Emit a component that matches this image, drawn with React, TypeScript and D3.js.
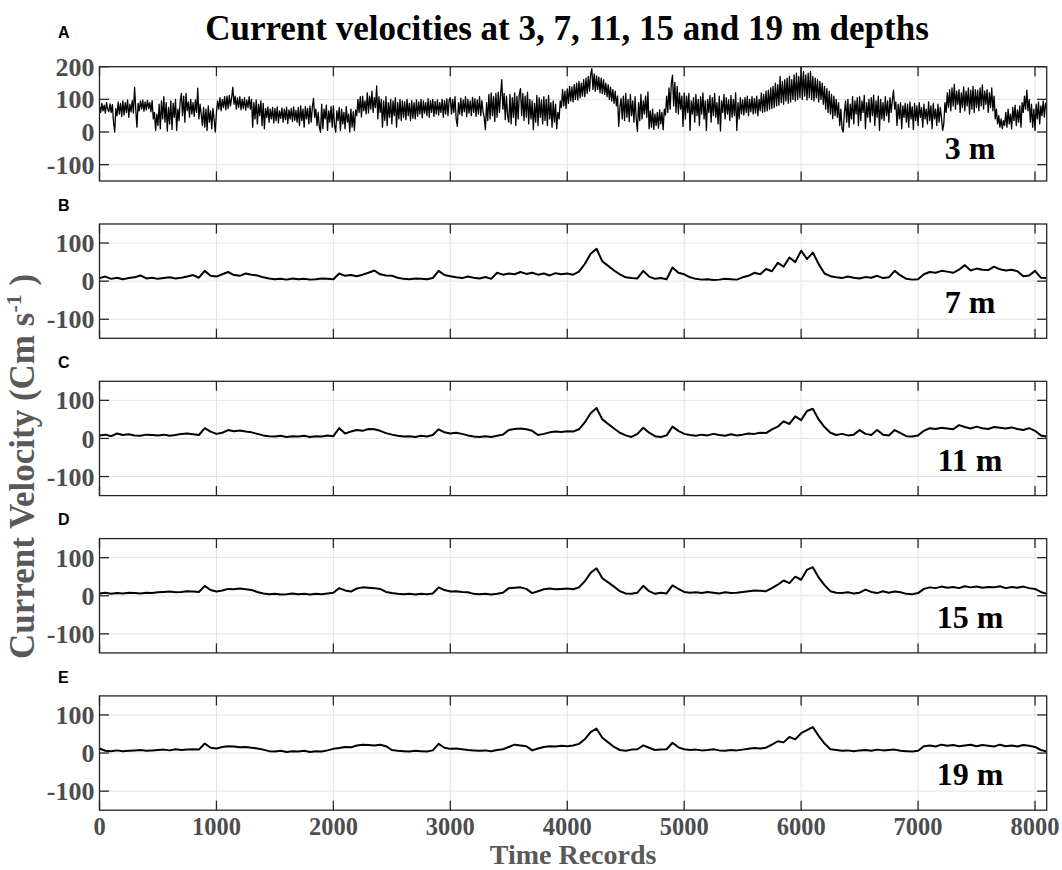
import React from "react";
import * as d3 from "d3";

// ---------- DATA ----------
const X_MAX = 8100;
const STEP_3M = 10;
const STEP_DEEP = 50;
const xTickValues = [0, 1000, 2000, 3000, 4000, 5000, 6000, 7000, 8000];
const yTicksTop = [-100, 0, 100, 200];
const yTicksDeep = [-100, 0, 100];
const panelLetters = ["A", "B", "C", "D", "E"];
const depthLabels = ["3 m", "7 m", "11 m", "15 m", "19 m"];
const titleText = "Current velocities at 3, 7, 11, 15 and 19 m depths";
const xAxisTitle = "Time Records";

// 3 m, one value every 10 records (one row = 100 records)
const vel3m = [
  78, 60, 88, 65, 82, 58, 90, 70, 62, 86,
  60, 84, 30, 0, 72, 50, 92, 55, 88, 48,
  95, 52, 90, 60, 98, 45, 85, 62, 96, 58,
  137, 70, 15, 88, 65, 95, 70, 98, 64, 92,
  68, 97, 72, 90, 62, 96, 40, 60, 5, 55,
  20, 85, 10, 95, 40, 108, 30, 90, 3, 75,
  25, 95, 8, 88, 45, 100, 5, 70, 35, 95,
  118, 50, 110, 30, 118, 65, 92, 45, 100, 55,
  90, 48, 98, 60, 134, 40, 85, 55, 20, 75,
  15, 70, 5, 80, 30, 65, 10, 72, 40, 0,
  60, 95, 70, 105, 65, 100, 75, 108, 68, 110,
  72, 112, 80, 105, 137, 85, 110, 70, 105, 75,
  108, 68, 100, 72, 105, 67, 98, 75, 108, 70,
  100, 15, 90, 40, 98, 25, 85, 50, 95, 20,
  88, 10, 72, 45, 77, 30, 70, 40, 75, 28,
  72, 35, 77, 28, 65, 42, 74, 30, 70, 38,
  76, 26, 68, 40, 72, 32, 77, 36, 66, 30,
  75, 20, 80, 35, 70, 15, 78, 40, 72, 25,
  80, 30, 75, 103, 45, 70, 20, 60, 15, 0,
  85, 10, 70, 40, 82, 5, 65, 30, 78, 15,
  80, 20, 0, 65, 35, 75, 5, 70, 25, 60,
  10, 78, 30, 55, 0, 70, 15, 62, 5, 68,
  50, 100, 60, 108, 46, 110, 65, 95, 55, 120,
  58, 110, 70, 125, 60, 105, 75, 141, 40, 108,
  60, 100, 15, 95, 35, 108, 20, 90, 45, 100,
  25, 95, 50, 105, 15, 90, 40, 100, 35, 95,
  45, 92, 38, 100, 50, 88, 35, 96, 42, 90,
  40, 98, 48, 92, 55, 100, 43, 95, 58, 90,
  50, 102, 45, 96, 60, 100, 48, 94, 55, 98,
  52, 90, 60, 100, 45, 96, 55, 102, 50, 98,
  105, 55, 100, 60, 108, 40, 17, 90, 55, 104,
  50, 98, 62, 108, 47, 100, 58, 95, 50, 106,
  60, 102, 48, 98, 55, 108, 50, 96, 62, 45,
  7, 90, 35, 115, 40, 120, 50, 108, 32, 118,
  45, 122, 60, 115, 160, 70, 118, 38, 110, 50,
  30, 115, 25, 105, 45, 120, 20, 110, 40, 115,
  133, 50, 118, 35, 110, 45, 122, 25, 100, 40,
  95, 7, 88, 30, 112, 20, 105, 45, 98, 25,
  108, 35, 100, 20, 112, 40, 90, 15, 95, 30,
  85, 10, 60, 40, 95, 75, 130, 80, 125, 72,
  132, 88, 140, 95, 138, 92, 145, 100, 150, 98,
  155, 105, 150, 110, 160, 108, 165, 118, 170, 125,
  175, 194, 130, 178, 125, 172, 130, 168, 120, 165,
  118, 160, 115, 150, 108, 145, 100, 138, 95, 130,
  88, 125, 80, 110, 17, 75, 103, 40, 110, 35,
  118, 45, 100, 32, 115, 50, 95, 30, 108, 40,
  2, 90, 35, 115, 40, 95, 55, 110, 45, 123,
  10, 65, 15, 70, 8, 55, 20, 60, 12, 68,
  25, 60, 7, 70, 52, 110, 60, 135, 70, 150,
  174, 80, 152, 60, 140, 55, 120, 70, 110, 17,
  120, 40, 110, 60, 118, 5, 95, 55, 105, 30,
  115, 50, 100, 20, 108, 55, 120, 40, 95, 5,
  100, 60, 112, 30, 105, 50, 118, 45, 90, 25,
  110, 3, 95, 60, 115, 40, 105, 55, 98, 35,
  112, 45, 100, 50, 120, 5, 90, 40, 105, 55,
  98, 52, 105, 60, 110, 50, 100, 62, 108, 55,
  102, 58, 110, 50, 100, 65, 120, 60, 115, 62,
  125, 65, 128, 70, 135, 72, 140, 75, 150, 80,
  145, 82, 170, 90, 155, 85, 160, 95, 165, 88,
  170, 92, 160, 100, 175, 95, 180, 100, 170, 105,
  199, 100, 185, 110, 175, 98, 180, 105, 185, 100,
  170, 95, 165, 105, 160, 92, 155, 100, 150, 85,
  140, 70, 133, 60, 125, 55, 115, 41, 110, 50,
  100, 45, 90, 20, 70, 10, 0, 60, 95, 30,
  100, 15, 85, 40, 108, 25, 95, 55, 105, 20,
  108, 35, 95, 60, 112, 10, 90, 45, 100, 30,
  105, 50, 113, 20, 95, 45, 110, 5, 100, 40,
  90, 35, 108, 50, 95, 30, 105, 60, 98, 128,
  70, 92, 20, 85, 40, 90, 10, 80, 45, 88,
  30, 85, 15, 92, 40, 78, 8, 88, 35, 80,
  20, 90, 45, 75, 15, 85, 40, 70, 25, 92,
  35, 80, 10, 88, 40, 70, 20, 85, 30, 75,
  45, 5, 25, 90, 60, 120, 75, 130, 65, 135,
  80, 146, 70, 125, 85, 130, 60, 120, 75, 138,
  65, 125, 80, 135, 55, 128, 70, 140, 60, 130,
  75, 128, 65, 135, 80, 144, 70, 125, 85, 130,
  60, 120, 75, 135, 65, 110, 40, 70, 25, 50,
  15, 40, 10, 35, 20, 60, 15, 70, 25, 55,
  10, 75, 35, 82, 20, 68, 30, 80, 15, 90,
  60, 110, 70, 128, 65, 100, 30, 85, 15, 70,
  5, 85, 40, 92, 25, 80, 50, 95, 45, 88,
  70,
];

// deeper levels, one value every 50 records
const vel7m = [
  8, 12, 6, 9, 5, 8, 10, 15, 7, 9,
  6, 8, 10, 7, 9, 12, 16, 9, 27, 14,
  12, 18, 24, 16, 14, 20, 17, 15, 10, 7,
  5, 6, 4, 7, 5, 6, 4, 5, 7, 6,
  5, 20, 14, 16, 13, 17, 22, 28, 18, 15,
  14, 9, 6, 5, 7, 6, 5, 8, 27, 16,
  13, 10, 8, 12, 9, 7, 11, 6, 22, 17,
  20, 18, 24, 19, 22, 17, 20, 15, 21, 18,
  20, 17, 25, 45, 72, 85, 52, 40, 28, 18,
  10, 8, 7, 27, 12, 6, 8, 5, 36, 22,
  18, 10, 6, 4, 5, 3, 4, 6, 5, 4,
  10, 14, 22, 18, 32, 26, 48, 38, 62, 50,
  80, 58, 75, 45, 20, 13, 10, 8, 12, 9,
  7, 11, 9, 14, 8, 10, 27, 15, 6, 4,
  5, 18, 24, 22, 27, 25, 22, 30, 42, 28,
  33, 30, 29, 38, 31, 28, 30, 26, 13, 15,
  27, 9, 8,
];

const vel11m = [
  8, 10, 6, 13, 9, 11, 8, 7, 10, 9,
  8, 10, 7, 9, 12, 13, 11, 9, 27, 18,
  12, 15, 22, 19, 21, 18, 16, 12, 8, 6,
  5, 7, 4, 6, 5, 7, 4, 6, 5, 8,
  6, 27, 13, 18, 22, 20, 25, 24, 20, 14,
  10, 7, 5, 6, 4, 7, 5, 9, 24, 16,
  13, 15, 12, 8, 5, 4, 6, 4, 7, 10,
  22, 25, 26, 24, 20, 9, 12, 16, 18, 17,
  19, 18, 24, 42, 66, 80, 50, 38, 26, 15,
  8, 4, 12, 28, 15, 6, 4, 8, 31, 20,
  12, 9, 7, 10, 8, 12, 9, 7, 11, 8,
  10, 13, 12, 15, 14, 24, 31, 45, 38, 58,
  48, 72, 78, 50, 30, 15, 9, 12, 8, 10,
  22, 12, 9, 22, 10, 8, 22, 14, 6, 5,
  8, 20, 27, 25, 28, 26, 24, 35, 30, 26,
  31, 27, 25, 30, 28, 26, 29, 25, 22, 27,
  20, 8, 5,
];

const vel15m = [
  6, 8, 5, 7, 6, 8, 7, 6, 8, 7,
  9, 10, 11, 9, 10, 12, 11, 10, 26, 15,
  11, 14, 18, 17, 19, 17, 15, 10, 6, 4,
  5, 3, 4, 6, 4, 5, 3, 5, 4, 6,
  8, 20, 14, 11, 19, 22, 21, 20, 18, 10,
  7, 5, 4, 5, 3, 5, 4, 6, 22, 15,
  11, 12, 10, 9, 5, 4, 5, 3, 5, 8,
  20, 21, 22, 18, 7, 12, 17, 19, 17, 18,
  19, 17, 22, 38, 60, 72, 46, 35, 24, 12,
  6, 5, 8, 26, 12, 5, 8, 6, 27, 18,
  10, 8, 9, 7, 10, 8, 6, 9, 7, 8,
  10, 12, 14, 13, 12, 20, 29, 40, 33, 50,
  42, 68, 75, 48, 28, 12, 8, 7, 9, 6,
  8, 16, 10, 7, 12, 8, 11, 9, 5, 4,
  7, 18, 22, 20, 24, 21, 23, 20, 25, 22,
  24, 21, 23, 22, 25, 20, 23, 21, 24, 20,
  18, 10, 5,
];

const vel19m = [
  12, 6, 5, 7, 5, 6, 7, 8, 6, 7,
  8, 9, 7, 10, 8, 9, 10, 9, 25, 14,
  12, 16, 18, 17, 15, 16, 14, 12, 9, 5,
  4, 6, 3, 5, 4, 6, 3, 5, 4, 7,
  11, 13, 16, 15, 20, 22, 21, 20, 22, 18,
  8, 6, 5, 4, 6, 5, 4, 7, 24, 14,
  11, 12, 10, 8, 7, 6, 7, 5, 8, 10,
  16, 22, 20, 18, 7, 12, 16, 18, 17, 19,
  18, 20, 24, 36, 55, 64, 40, 28, 16, 8,
  6, 9, 10, 20, 14, 8, 9, 10, 27, 15,
  10, 8, 9, 7, 8, 10, 7, 6, 8, 7,
  9, 11, 13, 12, 14, 22, 31, 28, 42, 36,
  52, 60, 68, 45, 25, 10, 8, 6, 7, 5,
  7, 8, 6, 9, 7, 8, 9, 6, 5, 4,
  6, 18, 20, 17, 22, 19, 21, 18, 20, 22,
  18, 21, 19, 17, 22, 18, 20, 17, 21, 19,
  16, 8, 4,
];

// ---------- LAYOUT ----------
const W = 1062;
const H = 870;
const LEFT = 99.5;
const RIGHT = 1046.7;
const TOP0 = 66.7;
const PANEL_GAP = 157.3;
const PANEL_H = 114.3;
const TICK = 9.5;
const SERIF = "'Liberation Serif', 'Times New Roman', Times, serif";
const SANS = "'Liberation Sans', Arial, Helvetica, sans-serif";

const panels = [
  { values: vel3m, step: STEP_3M, domain: [-150, 200], ticks: yTicksTop, width: 1.3 },
  { values: vel7m, step: STEP_DEEP, domain: [-150, 150], ticks: yTicksDeep, width: 2 },
  { values: vel11m, step: STEP_DEEP, domain: [-150, 150], ticks: yTicksDeep, width: 2 },
  { values: vel15m, step: STEP_DEEP, domain: [-150, 150], ticks: yTicksDeep, width: 2 },
  { values: vel19m, step: STEP_DEEP, domain: [-150, 150], ticks: yTicksDeep, width: 2 },
];

export default function App() {
  const x = d3.scaleLinear().domain([0, X_MAX]).range([LEFT, RIGHT]);
  const lastTop = TOP0 + 4 * PANEL_GAP;
  const lastBottom = lastTop + PANEL_H;

  return (
    <svg
      width={W}
      height={H}
      style={{ position: "absolute", left: 0, top: 0, display: "block", background: "#fff" }}
    >
      <defs>
        {panels.map((p, i) => (
          <clipPath id={`clip${i}`} key={i}>
            <rect x={LEFT} y={TOP0 + i * PANEL_GAP} width={RIGHT - LEFT} height={PANEL_H} />
          </clipPath>
        ))}
      </defs>

      <text
        x={567}
        y={40}
        textAnchor="middle"
        fontFamily={SERIF}
        fontWeight="bold"
        fontSize={35}
        fill="#000"
      >
        {titleText}
      </text>

      {panels.map((p, i) => {
        const top = TOP0 + i * PANEL_GAP;
        const bottom = top + PANEL_H;
        const y = d3.scaleLinear().domain(p.domain).range([bottom, top]);
        const line = d3
          .line<number>()
          .x((_, k) => x(k * p.step))
          .y((v) => y(v));
        const letterY = i === 0 ? 38.3 : 210.7 + (i - 1) * PANEL_GAP;
        return (
          <g key={i}>
            {xTickValues.map((t) => (
              <line key={"gx" + t} x1={x(t)} x2={x(t)} y1={top} y2={bottom} stroke="#e3e3e3" strokeWidth={1} />
            ))}
            {p.ticks.map((t) => (
              <line key={"gy" + t} x1={LEFT} x2={RIGHT} y1={y(t)} y2={y(t)} stroke="#e3e3e3" strokeWidth={1} />
            ))}
            <path
              d={line(p.values) || ""}
              fill="none"
              stroke="#000"
              strokeWidth={p.width}
              strokeLinejoin="round"
              clipPath={`url(#clip${i})`}
            />
            <rect x={LEFT} y={top} width={RIGHT - LEFT} height={PANEL_H} fill="none" stroke="#262626" strokeWidth={1.3} />
            {xTickValues.map((t) => (
              <g key={"tx" + t}>
                <line x1={x(t)} x2={x(t)} y1={bottom} y2={bottom - TICK} stroke="#262626" strokeWidth={1.3} />
                <line x1={x(t)} x2={x(t)} y1={top} y2={top + TICK} stroke="#262626" strokeWidth={1.3} />
              </g>
            ))}
            {p.ticks.map((t) => (
              <g key={"ty" + t}>
                <line x1={LEFT} x2={LEFT + TICK} y1={y(t)} y2={y(t)} stroke="#262626" strokeWidth={1.3} />
                <line x1={RIGHT} x2={RIGHT - TICK} y1={y(t)} y2={y(t)} stroke="#262626" strokeWidth={1.3} />
                <text
                  x={LEFT - 5}
                  y={y(t)}
                  dy="0.35em"
                  textAnchor="end"
                  fontFamily={SERIF}
                  fontWeight="bold"
                  fontSize={26}
                  fill="#4d4d4d"
                >
                  {t}
                </text>
              </g>
            ))}
            <text x={58} y={letterY} fontFamily={SANS} fontWeight="bold" fontSize={16} fill="#000">
              {panelLetters[i]}
            </text>
            <text
              x={970}
              y={y(-100) - 6}
              textAnchor="middle"
              fontFamily={SERIF}
              fontWeight="bold"
              fontSize={32}
              fill="#000"
            >
              {depthLabels[i]}
            </text>
          </g>
        );
      })}

      {xTickValues.map((t) => (
        <text
          key={"xl" + t}
          x={x(t)}
          y={834.5}
          textAnchor="middle"
          fontFamily={SERIF}
          fontWeight="bold"
          fontSize={24.5}
          fill="#4d4d4d"
        >
          {t}
        </text>
      ))}

      <text
        x={(LEFT + RIGHT) / 2}
        y={864}
        textAnchor="middle"
        fontFamily={SERIF}
        fontWeight="bold"
        fontSize={28}
        fill="#595959"
      >
        {xAxisTitle}
      </text>

      <text
        transform={`translate(34, ${(TOP0 + lastBottom) / 2 + 28}) rotate(-90)`}
        textAnchor="middle"
        fontFamily={SERIF}
        fontWeight="bold"
        fontSize={35}
        fill="#595959"
      >
        Current Velocity (Cm s
        <tspan dy={-13} fontSize={22}>-1</tspan>
        <tspan dy={13}> )</tspan>
      </text>
    </svg>
  );
}
